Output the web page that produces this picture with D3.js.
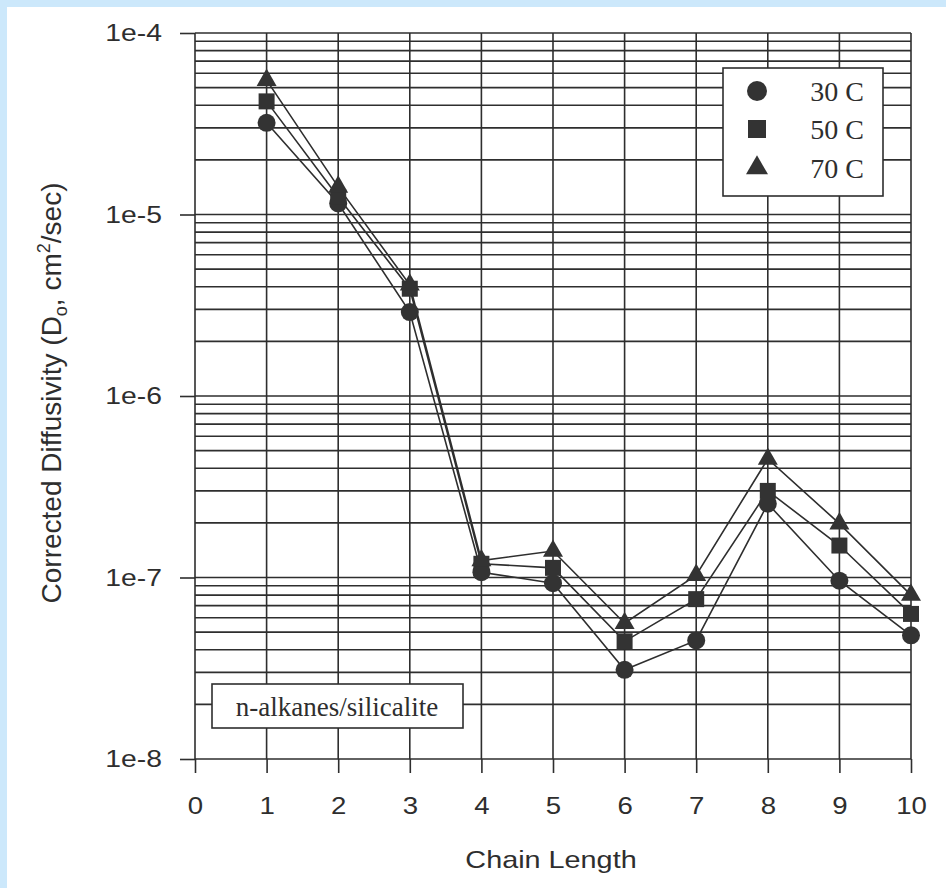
<!DOCTYPE html>
<html>
<head>
<meta charset="utf-8">
<script src="https://cdn.jsdelivr.net/npm/d3@7"></script>
<style>
  html, body { margin: 0; padding: 0; background: #cce8fb; }
  svg { display: block; }
</style>
</head>
<body>
<svg id="chart" width="946" height="888"></svg>
<script>
// ---- data ----
const chainLength = [1, 2, 3, 4, 5, 6, 7, 8, 9, 10];
const series30C = [3.2e-5, 1.15e-5, 2.9e-6, 1.07e-7, 9.3e-8, 3.1e-8, 4.5e-8, 2.55e-7, 9.6e-8, 4.8e-8];
const series50C = [4.2e-5, 1.25e-5, 3.9e-6, 1.19e-7, 1.13e-7, 4.45e-8, 7.6e-8, 3.0e-7, 1.5e-7, 6.3e-8];
const series70C = [5.5e-5, 1.42e-5, 4.1e-6, 1.24e-7, 1.4e-7, 5.6e-8, 1.03e-7, 4.5e-7, 1.98e-7, 8.0e-8];
const seriesNames = ["30 C", "50 C", "70 C"];
const seriesShapes = ["circle", "square", "triangle"];
const xTicks = [0, 1, 2, 3, 4, 5, 6, 7, 8, 9, 10];
const yTicks = [1e-8, 1e-7, 1e-6, 1e-5, 1e-4];
const yTickLabels = ["1e-8", "1e-7", "1e-6", "1e-5", "1e-4"];
const xTitle = "Chain Length";
const annotation = "n-alkanes/silicalite";

// ---- layout ----
const ink = "#2e2e2e";
const svg = d3.select("#chart");
svg.append("rect").attr("x", 0).attr("y", 0).attr("width", 946).attr("height", 888).attr("fill", "#cce8fb");
svg.append("rect").attr("x", 7).attr("y", 7).attr("width", 939).attr("height", 881).attr("fill", "#ffffff");

const x = d3.scaleLinear().domain([0, 10]).range([195, 911]);
const y = d3.scaleLog().domain([1e-8, 1e-4]).range([759, 33]);

// minor grid values
const gridVals = [];
for (let e = -8; e < -4; e++) for (let m = 1; m <= 9; m++) gridVals.push(m * Math.pow(10, e));
gridVals.push(1e-4);

const g = svg.append("g");
g.selectAll("line.h").data(gridVals).join("line")
  .attr("x1", x(0)).attr("x2", x(10))
  .attr("y1", d => y(d)).attr("y2", d => y(d))
  .attr("stroke", ink).attr("stroke-width", 1.6);
g.selectAll("line.v").data(xTicks).join("line")
  .attr("x1", d => x(d)).attr("x2", d => x(d))
  .attr("y1", y(1e-4)).attr("y2", y(1e-8))
  .attr("stroke", ink).attr("stroke-width", 1.6);

// axes (ticks outward)
const yAxis = d3.axisLeft(y).tickValues(yTicks).tickSize(15).tickPadding(18)
  .tickFormat((d, i) => yTickLabels[i]);
const ya = svg.append("g").attr("transform", `translate(${x(0)},0)`).call(yAxis);
ya.select(".domain").remove();
ya.selectAll(".tick line").attr("stroke", ink).attr("stroke-width", 1.6);
ya.selectAll(".tick text")
  .attr("font-family", "'Liberation Sans', Arial, sans-serif")
  .attr("font-size", 24).attr("fill", ink);
ya.selectAll(".tick text").each(function() {
  const t = d3.select(this);
  const xx = +t.attr("x");
  t.attr("x", null).attr("transform", `translate(${xx},0) scale(1.18,1)`);
});

const xAxis = d3.axisBottom(x).tickValues(xTicks).tickSize(14).tickPadding(24).tickFormat(d3.format("d"));
const xa = svg.append("g").attr("transform", `translate(0,${y(1e-8)})`).call(xAxis);
xa.select(".domain").remove();
xa.selectAll(".tick line").attr("stroke", ink).attr("stroke-width", 1.6);
xa.selectAll(".tick text")
  .attr("font-family", "'Liberation Sans', Arial, sans-serif")
  .attr("font-size", 24).attr("fill", ink);
xa.selectAll(".tick text").each(function() {
  const t = d3.select(this);
  const yy = +t.attr("y");
  t.attr("y", null).attr("dy", "0.71em").attr("transform", `translate(0,${yy}) scale(1.15,1)`);
});

// axis titles
svg.append("text")
  .attr("transform", `translate(551,868) scale(1.2,1)`)
  .attr("text-anchor", "middle")
  .attr("font-family", "'Liberation Sans', Arial, sans-serif")
  .attr("font-size", 24).attr("fill", ink)
  .text(xTitle);

const yt = svg.append("text")
  .attr("transform", `translate(61,393) rotate(-90)`)
  .attr("text-anchor", "middle")
  .attr("font-family", "'Liberation Sans', Arial, sans-serif")
  .attr("font-size", 28).attr("fill", ink);
yt.append("tspan").text("Corrected Diffusivity (D");
yt.append("tspan").attr("font-size", 18).attr("dy", 6).text("o");
yt.append("tspan").attr("dy", -6).text(", cm");
yt.append("tspan").attr("font-size", 18).attr("dy", -11).text("2");
yt.append("tspan").attr("dy", 11).text("/sec)");

// ---- series ----
const allSeries = [series30C, series50C, series70C];
const line = d3.line().x((d, i) => x(chainLength[i])).y(d => y(d));
const markerPath = (shape, s) => {
  if (shape === "circle") return d3.symbol(d3.symbolCircle, Math.PI * s * s / 4)();
  if (shape === "square") return d3.symbol(d3.symbolSquare, s * s)();
  return d3.symbol(d3.symbolTriangle, s * s * 0.433)();
};
const markerSize = { circle: 18, square: 16, triangle: 20 };

allSeries.forEach((vals) => {
  svg.append("path").datum(vals)
    .attr("d", line).attr("fill", "none")
    .attr("stroke", ink).attr("stroke-width", 1.6);
});
allSeries.forEach((vals, si) => {
  const shape = seriesShapes[si];
  svg.selectAll(null).data(vals).join("path")
    .attr("transform", (d, i) => `translate(${x(chainLength[i])},${y(d)})`)
    .attr("d", markerPath(shape, markerSize[shape]))
    .attr("fill", "#333");
});

// ---- legend ----
const leg = svg.append("g");
leg.append("rect").attr("x", 723).attr("y", 68).attr("width", 160).attr("height", 128)
  .attr("fill", "#fff").attr("stroke", ink).attr("stroke-width", 1.6);
const legRows = [91, 129, 168];
seriesNames.forEach((name, i) => {
  const shape = seriesShapes[i];
  leg.append("path")
    .attr("transform", `translate(757,${legRows[i]})`)
    .attr("d", markerPath(shape, shape === "triangle" ? 22 : (shape === "circle" ? 20 : 18)))
    .attr("fill", "#333");
  leg.append("text")
    .attr("x", 864).attr("y", legRows[i] + 10)
    .attr("text-anchor", "end")
    .attr("font-family", "'Liberation Serif', 'Times New Roman', serif")
    .attr("font-size", 28).attr("fill", ink)
    .text(name);
});

// ---- annotation ----
svg.append("rect").attr("x", 212).attr("y", 684).attr("width", 251).attr("height", 44)
  .attr("fill", "#fff").attr("stroke", ink).attr("stroke-width", 1.6);
svg.append("text")
  .attr("x", 337).attr("y", 716)
  .attr("text-anchor", "middle")
  .attr("font-family", "'Liberation Serif', 'Times New Roman', serif")
  .attr("font-size", 27).attr("fill", ink)
  .text(annotation);
</script>
</body>
</html>
